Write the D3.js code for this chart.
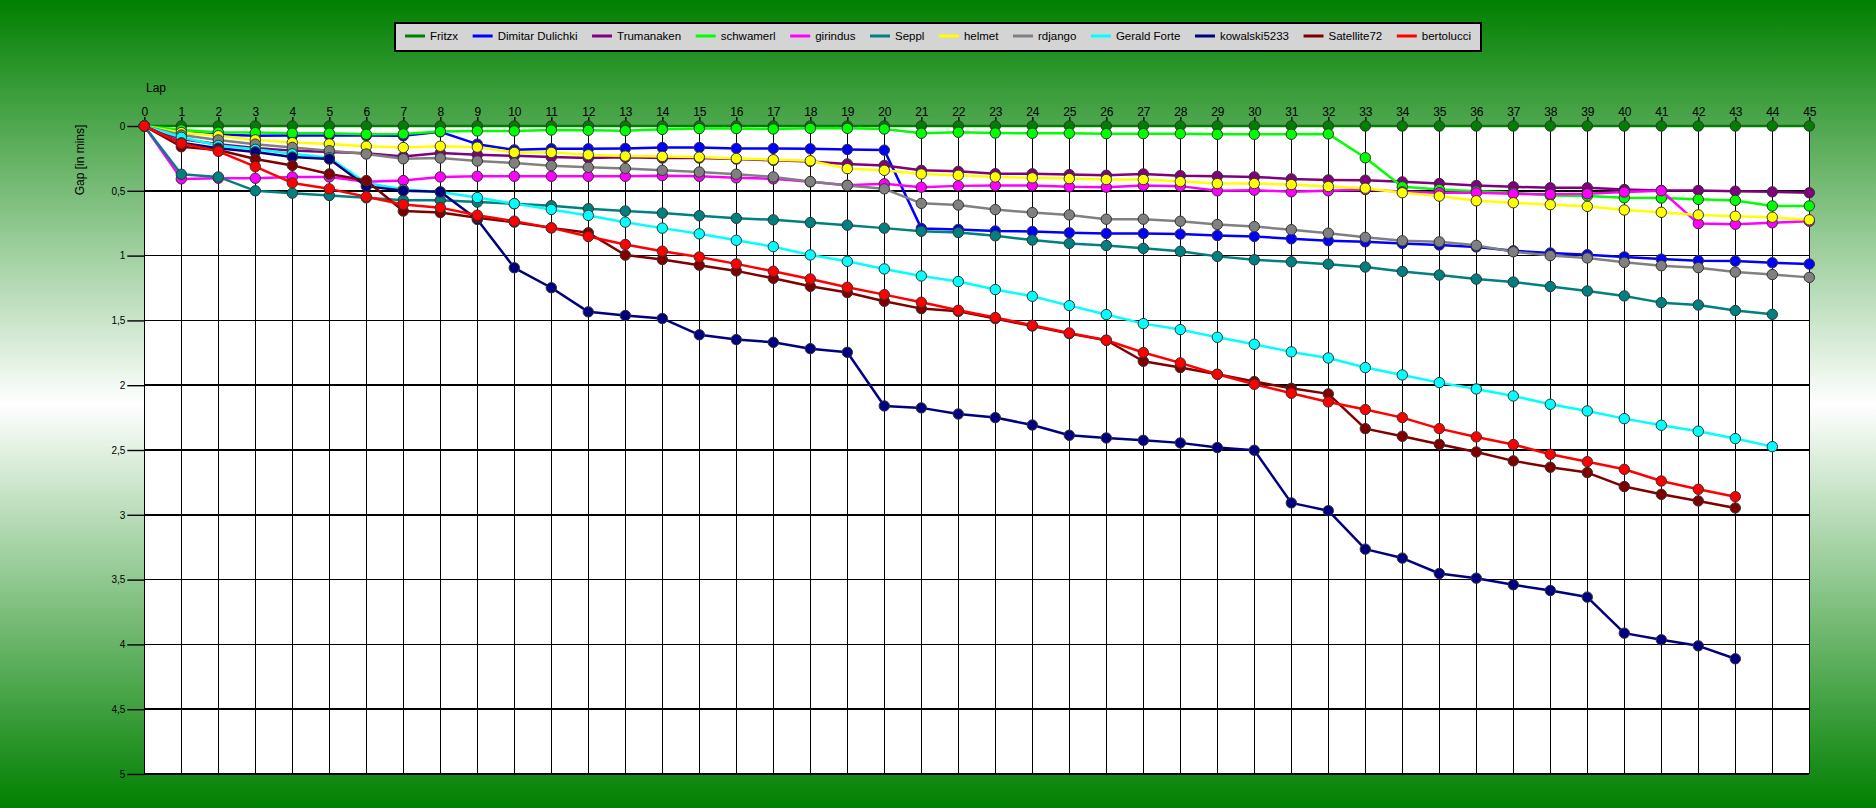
<!DOCTYPE html>
<html><head><meta charset="utf-8">
<script src="https://cdn.jsdelivr.net/npm/d3@7"></script>
<style>body{margin:0;padding:0;overflow:hidden}svg{display:block}</style>
</head><body>
<svg id="chart" width="1876" height="808"></svg>
<script>
const laps = [0,1,2,3,4,5,6,7,8,9,10,11,12,13,14,15,16,17,18,19,20,21,22,23,24,25,26,27,28,29,30,31,32,33,34,35,36,37,38,39,40,41,42,43,44,45];
const gapTicks = [0,0.5,1,1.5,2,2.5,3,3.5,4,4.5,5];
const seriesNames = ["Fritzx","Dimitar Dulichki","Trumanaken","schwamerl","girindus","Seppl","helmet","rdjango","Gerald Forte","kowalski5233","Satellite72","bertolucci"];
const seriesColors = ["#008000","#0000ff","#800080","#00ff00","#ff00ff","#008080","#ffff00","#808080","#00ffff","#000080","#800000","#ff0000"];

const fritzx = [0,0,0,0,0,0,0,0,0,0,0,0,0,0,0,0,0,0,0,0,0,0,0,0,0,0,0,0,0,0,0,0,0,0,0,0,0,0,0,0,0,0,0,0,0,0];
const dimitar = [0,0.05,0.065,0.075,0.074,0.074,0.074,0.076,0.045,0.14,0.184,0.176,0.176,0.173,0.166,0.166,0.173,0.173,0.176,0.181,0.186,0.79,0.798,0.81,0.814,0.824,0.829,0.829,0.834,0.845,0.852,0.87,0.885,0.894,0.906,0.918,0.933,0.963,0.98,0.993,1.01,1.027,1.039,1.042,1.055,1.065];
const trumanaken = [0,0.1,0.14,0.17,0.19,0.2,0.21,0.235,0.209,0.222,0.23,0.24,0.247,0.242,0.247,0.247,0.255,0.265,0.273,0.293,0.304,0.342,0.35,0.368,0.369,0.375,0.38,0.37,0.383,0.388,0.393,0.408,0.416,0.418,0.431,0.444,0.459,0.469,0.477,0.477,0.49,0.497,0.497,0.503,0.508,0.515];
const schwamerl = [0,0.03,0.048,0.051,0.056,0.056,0.064,0.061,0.043,0.038,0.038,0.031,0.033,0.036,0.026,0.02,0.02,0.023,0.018,0.018,0.023,0.056,0.048,0.054,0.056,0.056,0.059,0.059,0.059,0.064,0.064,0.064,0.061,0.245,0.469,0.49,0.503,0.515,0.536,0.54,0.554,0.556,0.566,0.574,0.617,0.617];
const girindus = [0,0.408,0.403,0.403,0.393,0.393,0.431,0.421,0.393,0.388,0.388,0.388,0.388,0.388,0.383,0.388,0.4,0.408,0.431,0.457,0.446,0.472,0.462,0.459,0.459,0.469,0.472,0.459,0.464,0.5,0.495,0.508,0.5,0.49,0.508,0.515,0.515,0.523,0.526,0.523,0.51,0.5,0.753,0.758,0.747,0.735];
const seppl = [0,0.372,0.393,0.5,0.518,0.536,0.554,0.572,0.572,0.587,0.6,0.615,0.638,0.656,0.672,0.692,0.712,0.724,0.745,0.765,0.788,0.812,0.822,0.847,0.88,0.906,0.922,0.944,0.967,1.006,1.032,1.048,1.066,1.088,1.122,1.15,1.181,1.204,1.239,1.273,1.311,1.363,1.381,1.424,1.453];
const helmet = [0,0.051,0.075,0.107,0.128,0.138,0.156,0.166,0.156,0.163,0.204,0.204,0.222,0.232,0.235,0.24,0.25,0.26,0.268,0.329,0.342,0.37,0.38,0.393,0.4,0.406,0.413,0.413,0.429,0.444,0.444,0.452,0.467,0.48,0.515,0.541,0.577,0.592,0.607,0.62,0.648,0.666,0.686,0.696,0.704,0.724];
const rdjango = [0,0.07,0.108,0.14,0.165,0.19,0.216,0.253,0.247,0.27,0.286,0.306,0.319,0.327,0.342,0.355,0.372,0.393,0.429,0.459,0.485,0.597,0.61,0.645,0.668,0.686,0.719,0.719,0.735,0.76,0.776,0.8,0.827,0.859,0.886,0.894,0.921,0.97,1.0,1.018,1.052,1.078,1.093,1.127,1.146,1.168];
const geraldForte = [0,0.087,0.15,0.18,0.215,0.245,0.44,0.49,0.51,0.552,0.599,0.644,0.69,0.742,0.788,0.832,0.882,0.931,0.995,1.044,1.103,1.157,1.2,1.262,1.314,1.386,1.455,1.525,1.571,1.63,1.684,1.743,1.79,1.864,1.921,1.98,2.029,2.083,2.147,2.199,2.258,2.309,2.355,2.412,2.474];
const kowalski5233 = [0,0.13,0.171,0.2,0.24,0.255,0.464,0.5,0.508,0.721,1.094,1.248,1.434,1.462,1.485,1.611,1.648,1.669,1.718,1.746,2.16,2.175,2.222,2.25,2.307,2.386,2.407,2.425,2.445,2.481,2.502,2.908,2.968,3.265,3.334,3.453,3.489,3.54,3.584,3.635,3.913,3.964,4.011,4.111];
const satellite72 = [0,0.16,0.185,0.255,0.304,0.37,0.421,0.656,0.668,0.708,0.742,0.786,0.824,0.996,1.03,1.074,1.118,1.175,1.237,1.285,1.352,1.409,1.43,1.486,1.543,1.602,1.653,1.815,1.864,1.916,1.972,2.024,2.067,2.335,2.394,2.456,2.515,2.584,2.633,2.674,2.782,2.842,2.893,2.947];
const bertolucci = [0,0.134,0.196,0.314,0.439,0.485,0.546,0.605,0.63,0.688,0.734,0.786,0.853,0.914,0.966,1.011,1.064,1.121,1.18,1.244,1.301,1.36,1.422,1.478,1.538,1.597,1.653,1.748,1.828,1.916,1.993,2.062,2.129,2.188,2.25,2.335,2.399,2.458,2.533,2.59,2.649,2.739,2.803,2.86];

const seriesValues = [fritzx,dimitar,trumanaken,schwamerl,girindus,seppl,helmet,rdjango,geraldForte,kowalski5233,satellite72,bertolucci];
const series = seriesNames.map((n,i)=>({name:n,color:seriesColors[i],values:seriesValues[i]}));

const W = 1876, H = 808;
const svg = d3.select("#chart");
const FONT = "'Liberation Sans', Arial, sans-serif";

// background gradient
const defs = svg.append("defs");
const grad = defs.append("linearGradient").attr("id","bg").attr("x1",0).attr("y1",0).attr("x2",0).attr("y2",1);
grad.append("stop").attr("offset","0%").attr("stop-color","#008000");
grad.append("stop").attr("offset","50%").attr("stop-color","#ffffff");
grad.append("stop").attr("offset","100%").attr("stop-color","#008000");
svg.append("rect").attr("width",W).attr("height",H).attr("fill","url(#bg)");

const x = d3.scaleLinear().domain([0,45]).range([144.3,1809.3]);
const y = d3.scaleLinear().domain([0,5]).range([126,774]);

// plot area
svg.append("rect").attr("x",x(0)).attr("y",y(0)).attr("width",x(45)-x(0)).attr("height",y(5)-y(0)).attr("fill","#ffffff");

// grid
const grid = svg.append("g").attr("stroke","#000").attr("stroke-width",1.6).attr("shape-rendering","crispEdges");
grid.selectAll("line.h").data(gapTicks).join("line").attr("class","h")
  .attr("x1",x(0)).attr("x2",x(45)).attr("y1",d=>y(d)).attr("y2",d=>y(d));
grid.selectAll("line.v").data(laps).join("line").attr("class","v")
  .attr("x1",d=>x(d)).attr("x2",d=>x(d)).attr("y1",y(0)).attr("y2",y(5));

// left axis
const yAxis = d3.axisLeft(y).tickValues(gapTicks).tickSize(17).tickPadding(2)
  .tickFormat(d=>String(d).replace(".",","));
const gy = svg.append("g").attr("transform",`translate(${x(0)},0)`).call(yAxis);
gy.select(".domain").remove();
gy.selectAll(".tick line").attr("stroke","#000").attr("stroke-width",1.4);
gy.selectAll(".tick text").attr("fill","#000").style("font-family",FONT).style("font-size","10px");

// top axis
const xAxis = d3.axisTop(x).tickValues(laps).tickSize(9).tickPadding(1).tickFormat(d=>String(d));
const gx = svg.append("g").attr("transform",`translate(0,${y(0)})`).call(xAxis);
gx.select(".domain").remove();
gx.selectAll(".tick line").attr("stroke","#000").attr("stroke-width",1.4);
gx.selectAll(".tick text").attr("fill","#000").style("font-family",FONT).style("font-size","12px");

// axis titles
svg.append("text").attr("x",146).attr("y",92).text("Lap")
  .style("font-family",FONT).style("font-size","12px").attr("fill","#000");
svg.append("text").attr("transform","translate(84,160) rotate(-90)").attr("text-anchor","middle").text("Gap [in mins]")
  .style("font-family",FONT).style("font-size","12px").attr("fill","#000");

// series
const line = d3.line().x((d,i)=>x(laps[i])).y(d=>y(d));
const sg = svg.append("g").selectAll("g").data(series).join("g");
sg.append("path").attr("d",d=>line(d.values)).attr("fill","none").attr("stroke",d=>d.color)
  .attr("stroke-width",2.5).attr("stroke-linejoin","round");
sg.each(function(s){
  d3.select(this).selectAll("circle").data(s.values).join("circle")
    .attr("cx",(d,i)=>x(laps[i])).attr("cy",d=>y(d)).attr("r",5.2)
    .attr("fill",s.color).attr("stroke","#333").attr("stroke-width",1);
});

// legend
const lg = svg.append("g");
lg.append("rect").attr("x",395).attr("y",23).attr("width",1086).attr("height",28)
  .attr("fill","#d4d4d4").attr("stroke","#000").attr("stroke-width",2);
const items = lg.selectAll("g.item").data(series).join("g").attr("class","item");
items.append("line").attr("x1",0).attr("x2",20).attr("y1",0).attr("y2",0).attr("stroke",d=>d.color).attr("stroke-width",3);
items.append("text").attr("x",25).attr("y",4).text(d=>d.name)
  .style("font-family",FONT).style("font-size","11.5px").attr("fill","#000");
let widths = [];
items.each(function(){ widths.push(d3.select(this).select("text").node().getComputedTextLength()+25); });
const totalW = d3.sum(widths);
const gap = (1481-395-20 - totalW)/(series.length-1);
let cx = 405;
items.each(function(d,i){ d3.select(this).attr("transform",`translate(${cx},36)`); cx += widths[i]+gap; });
</script>
</body></html>
